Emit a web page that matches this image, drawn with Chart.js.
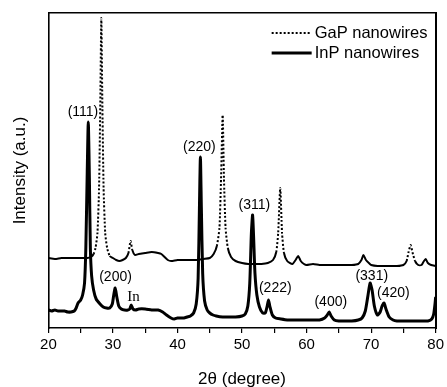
<!DOCTYPE html>
<html>
<head>
<meta charset="utf-8">
<script src="https://cdn.jsdelivr.net/npm/chart.js@4.4.1/dist/chart.umd.min.js"></script>
<style>
html,body{margin:0;padding:0;background:#fff;overflow:hidden;}
#wrap{width:447px;height:387px;position:relative;overflow:hidden;}
canvas{display:block;}
</style>
</head>
<body>
<div id="wrap"><canvas id="c" width="447" height="387"></canvas></div>
<script>
// ---- data (2θ in degrees, intensity in arbitrary units) ----
const seriesNames = ["GaP nanowires", "InP nanowires"];
const xRange = [20, 80];
const xTickValues = [20, 30, 40, 50, 60, 70, 80];

const gapX = [20,21,22,23,24,25,26,26.6,27,27.3,27.6,27.85,28.05,28.2,28.35,28.55,28.8,29.1,29.5,30,30.5,31,31.5,32,32.4,32.73,33.0,33.4,34,35,36,37,37.5,38,38.5,39,40,41,42,43,44,45,45.6,46.1,46.5,46.75,47.0,47.2,47.45,47.8,48.3,49,50,51,52,53,54,54.8,55.3,55.6,55.92,56.2,56.5,57,57.8,58.3,58.7,59.1,59.6,60,61,62,63,64,65,66,67,68,68.5,68.8,69.2,69.8,70,71,72,73,74,75,75.5,75.8,76.13,76.4,76.8,77.3,77.8,78.1,78.45,78.8,79.3,80];
const gapY = [70,69,70,70,70,70,70,71,74,80,95,140,230,310,230,140,95,80,72,70,68,67,68,70,75,87,78,73,74,75,76,75,74,71,68,67,68,68,68,68,69,70,74,82,100,150,213,150,100,80,71,67,65,64,64,64,65,68,76,95,140,95,75,67,64,68,72,67,64,63,64,63,63,63,63,63,63,64,68,73,68,64,63,62,62,62,62,63,67,76,83,76,67,63,63,66,69,65,63,62];

const inpX = [20,20.5,21,21.5,22,22.5,23,23.5,24,24.3,24.6,25,25.3,25.6,25.8,26.0,26.18,26.35,26.5,26.7,27,27.4,28,28.5,29,29.5,29.9,30.1,30.35,30.6,30.9,31.3,31.8,32.3,32.6,32.83,33.1,33.5,34,35,36,37,37.7,38.3,39,39.5,40,40.5,41,41.5,42,42.5,42.9,43.2,43.4,43.55,43.7,43.9,44.2,44.6,45,45.5,46,47,48,49,50,50.5,50.9,51.2,51.45,51.64,51.8,52.0,52.3,52.7,53.2,53.6,53.9,54.1,54.3,54.7,55.2,56,57,58,59,60,61,62,62.8,63.2,63.5,63.8,64.3,65,66,67,68,68.6,69.1,69.5,69.84,70.15,70.5,70.97,71.4,71.7,72.0,72.3,72.8,73.4,74,75,76,77,78,78.8,79.4,79.7,79.9,80];
const inpY = [18,17,18,17,17,17,16,16,17,20,25,28,33,45,80,150,206,150,80,52,38,29,24,21,20,20,24,32,40,31,22,19,18,18,19,23,19,18,19,19,18,18,16,13,10,9,10,10,10,11,12,15,24,50,120,171,120,55,27,18,15,13,12,11,11,11,12,14,22,45,95,113,90,55,33,21,15,15,22,28,22,13,10,9,8,8,8,8,8,8,10,13,16,12,8,7,7,7,8,10,17,32,45,38,22,13,16,22,25,19,11,8,7,7,7,7,7,7,9,14,24,31];

const peakLabels = ["(111)","(200)","In","(220)","(311)","(222)","(400)","(331)","(420)"];
const peakLabelX = [25.35,30.4,33.2,43.4,51.9,55.15,63.75,70.1,73.45];
const peakLabelY = [216,51,31,181,123,40,26,52,35];

const yRange = [0, 315];

// ---- build ----
const toPts = (xs, ys) => xs.map((x, i) => ({x: x, y: ys[i]}));
const SANS = "'Liberation Sans', Arial, sans-serif";
const SERIF = "'Liberation Serif', 'Times New Roman', serif";
const frameBorder = { display: true, color: '#000', width: 1.6 };

const labelPlugin = {
  id: 'peakLabels',
  afterDatasetsDraw(chart) {
    const ctx = chart.ctx, xs = chart.scales.x, ys = chart.scales.y;
    ctx.save();
    ctx.fillStyle = '#000';
    ctx.textAlign = 'center';
    ctx.textBaseline = 'middle';
    peakLabels.forEach((t, i) => {
      ctx.font = (t === 'In') ? ('15px ' + SERIF) : ('14px ' + SANS);
      ctx.fillText(t, xs.getPixelForValue(peakLabelX[i]), ys.getPixelForValue(peakLabelY[i]));
    });
    ctx.restore();
  }
};

const legendPlugin = {
  id: 'innerLegend',
  afterDatasetsDraw(chart) {
    const ctx = chart.ctx, a = chart.chartArea;
    ctx.save();
    chart.data.datasets.forEach((ds, i) => {
      const y = a.top + 20 + i * 20;
      const x0 = a.right - 164, x1 = a.right - 124;
      ctx.strokeStyle = '#000';
      ctx.lineWidth = ds.borderWidth;
      ctx.setLineDash(ds.borderDash || []);
      ctx.beginPath();
      ctx.moveTo(x0, y);
      ctx.lineTo(x1, y);
      ctx.stroke();
      ctx.setLineDash([]);
      ctx.fillStyle = '#000';
      ctx.font = '16.5px ' + SANS;
      ctx.textAlign = 'left';
      ctx.textBaseline = 'middle';
      ctx.fillText(ds.label, x1 + 3, y);
    });
    ctx.restore();
  }
};

const steep = c => {
  const dx = Math.abs(c.p1.x - c.p0.x), dy = Math.abs(c.p1.y - c.p0.y);
  return dy > 3 * dx;
};

new Chart(document.getElementById('c'), {
  type: 'line',
  data: {
    datasets: [
      {
        label: seriesNames[0],
        data: toPts(gapX, gapY),
        borderColor: '#000',
        borderWidth: 2,
        borderDash: [2, 2],
        pointRadius: 0,
        tension: 0.2,
        segment: { borderDash: c => steep(c) ? [2, 2] : [] }
      },
      {
        label: seriesNames[1],
        data: toPts(inpX, inpY),
        borderColor: '#000',
        borderWidth: 3,
        pointRadius: 0,
        tension: 0.2
      }
    ]
  },
  options: {
    responsive: false,
    animation: false,
    devicePixelRatio: 1,
    layout: { padding: { left: 6, right: 10, top: 13, bottom: 0 } },
    plugins: { legend: { display: false }, tooltip: { enabled: false } },
    scales: {
      x: {
        type: 'linear', position: 'bottom',
        min: xRange[0], max: xRange[1],
        border: frameBorder,
        grid: { display: true, drawOnChartArea: false, drawTicks: true, tickLength: 5, color: '#000', lineWidth: 1.2 },
        ticks: {
          stepSize: 5, autoSkip: false, maxRotation: 0, padding: 3,
          color: '#000', font: { family: SANS, size: 15 },
          callback: v => xTickValues.includes(v) ? String(v) : ''
        },
        title: {
          display: true, text: '2θ (degree)', color: '#000',
          font: { family: SANS, size: 17, lineHeight: 1 },
          padding: { top: 14, bottom: -1 }
        }
      },
      xTop: {
        type: 'linear', position: 'top',
        min: xRange[0], max: xRange[1],
        border: frameBorder,
        grid: { display: false, drawTicks: false },
        ticks: { display: false }
      },
      y: {
        type: 'linear', position: 'left',
        min: yRange[0], max: yRange[1],
        border: frameBorder,
        grid: { display: false, drawTicks: false },
        ticks: { display: false },
        title: {
          display: true, text: 'Intensity (a.u.)', color: '#000',
          font: { family: SANS, size: 17, lineHeight: 1.2 },
          padding: { top: 4, bottom: 18 }
        }
      },
      yRight: {
        type: 'linear', position: 'right',
        min: yRange[0], max: yRange[1],
        border: { display: true, color: '#000', width: 2 },
        grid: { display: false, drawTicks: false },
        ticks: { display: false }
      }
    }
  },
  plugins: [labelPlugin, legendPlugin]
});
</script>
</body>
</html>
